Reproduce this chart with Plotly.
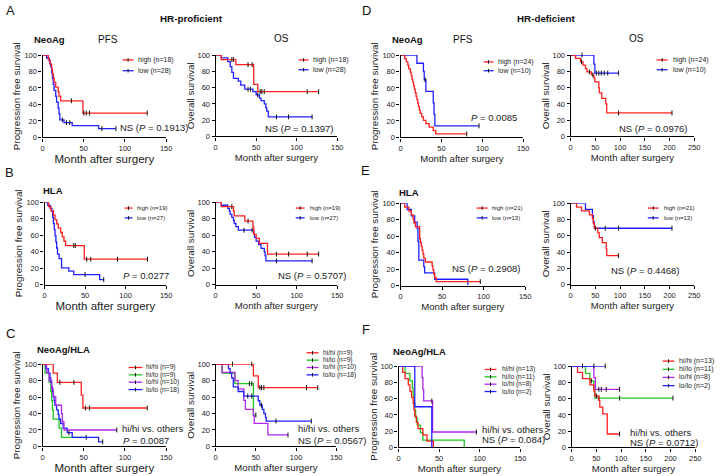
import plotly.graph_objects as go

FONT = "Arial, 'Liberation Sans', Helvetica, sans-serif"
W, H = 722, 476
RED, BLUE, GREEN, PURPLE, TICK = "#ff1f1f", "#2020ff", "#22c422", "#b028ea", "#111111"

# ------------------------------------------------------------------ data
# Each curve: event times (t), survival % after each time (s), censor times (c), last follow-up (end)
# A: HR-proficient, NeoAg, PFS
A_pfs_high_t = [0, 7, 9, 11, 12, 13, 14, 16, 19, 20, 22, 49]
A_pfs_high_s = [100, 94.4, 88.9, 83.3, 77.8, 72.2, 66.7, 61.1, 55.6, 50.0, 44.4, 29.6]
A_pfs_high_c = [35, 50, 53, 57, 127]
A_pfs_high_end = 127
A_pfs_low_t = [0, 5, 8, 9, 10, 11, 12, 13, 14, 16, 17, 19, 20, 21, 26, 36, 68]
A_pfs_low_s = [100, 96.4, 92.9, 89.3, 85.7, 78.6, 71.4, 64.3, 57.1, 50.0, 42.9, 35.7, 28.6, 21.4, 17.9, 14.3, 10.7]
A_pfs_low_c = [24, 29, 33, 72, 89]
A_pfs_low_end = 89
# A: OS
A_os_high_t = [0, 7, 25, 47, 52]
A_os_high_s = [100, 94.4, 88.2, 64.0, 55.0]
A_os_high_c = [20, 22, 40, 45, 55, 57, 60, 113, 127]
A_os_high_end = 127
A_os_low_t = [0, 7, 15, 18, 20, 22, 28, 31, 36, 46, 50, 54, 56, 60, 62, 63, 65]
A_os_low_s = [100, 96.4, 92.0, 85.7, 78.6, 71.4, 67.9, 63.0, 58.0, 55.0, 51.0, 47.0, 44.0, 40.0, 35.0, 31.0, 24.0]
A_os_low_c = [40, 43, 52, 75, 90, 119]
A_os_low_end = 119
# D: HR-deficient, NeoAg, PFS
D_pfs_high_t = [0, 5, 7, 9, 10, 12, 13, 14, 15, 16, 17, 18, 19, 20, 21, 22, 23, 24, 26, 28, 31, 35, 40, 43]
D_pfs_high_s = [100, 95.8, 91.7, 87.5, 83.3, 79.2, 75.0, 70.8, 66.7, 62.5, 58.3, 54.2, 50.0, 45.8, 41.7,
                37.5, 33.3, 29.2, 25.0, 20.8, 16.7, 12.5, 8.3, 4.2]
D_pfs_high_c = [81]
D_pfs_high_end = 81
D_pfs_low_t = [0, 20, 28, 29, 31, 40, 41, 42]
D_pfs_low_s = [100, 90, 80, 70, 56, 42, 28, 14]
D_pfs_low_c = [30, 96]
D_pfs_low_end = 96
# D: OS
D_os_high_t = [0, 10, 20, 25, 30, 33, 42, 47, 49, 57, 58, 63, 71, 73]
D_os_high_s = [100, 95.8, 91.7, 87.5, 83.3, 79.2, 75.6, 72.0, 66.9, 60.0, 53.5, 46.8, 40.1, 28.9]
D_os_high_c = [22, 38, 45, 97, 205]
D_os_high_end = 205
D_os_low_t = [0, 47, 49]
D_os_low_s = [100, 88.9, 77.8]
D_os_low_c = [23, 52, 57, 62, 68, 75, 97]
D_os_low_end = 97
# B: HR-proficient, HLA, PFS
B_pfs_high_t = [0, 5, 8, 11, 13, 15, 17, 20, 22, 24, 26, 49]
B_pfs_high_s = [100, 94.7, 89.5, 84.2, 78.9, 73.7, 68.4, 63.2, 57.9, 52.6, 47.4, 30.8]
B_pfs_high_c = [36, 38, 52, 57, 90, 127]
B_pfs_high_end = 127
B_pfs_low_t = [0, 4, 7, 9, 10, 11, 12, 13, 14, 15, 16, 18, 21, 30, 36, 68]
B_pfs_low_s = [100, 96.3, 92.6, 88.9, 81.5, 74.1, 66.7, 59.3, 51.9, 44.4, 37.0, 31.5, 20.4, 16.3, 12.2, 6.1]
B_pfs_low_c = [50, 73]
B_pfs_low_end = 73
# B: OS
B_os_high_t = [0, 7, 22, 23, 36, 46, 47, 50, 54, 64]
B_os_high_s = [100, 94.7, 89.5, 83.5, 77.0, 70.0, 61.0, 56.0, 50.0, 37.0]
B_os_high_c = [20, 40, 75, 90, 113, 127]
B_os_high_end = 127
B_os_low_t = [0, 7, 15, 17, 18, 20, 22, 23, 25, 28, 47, 48, 50, 53, 56, 60, 61, 62]
B_os_low_s = [100, 96.3, 92.6, 88.9, 85.2, 81.5, 77.8, 74.1, 70.4, 66.0, 61.6, 57.2, 52.8, 48.4, 44.0,
              39.6, 35.2, 28.8]
B_os_low_c = [35, 45, 75, 119]
B_os_low_end = 119
# E: HR-deficient, HLA, PFS
E_pfs_high_t = [0, 5, 10, 13, 15, 16, 18, 23, 24, 25, 26, 27, 28, 30, 38, 39, 40, 41, 43]
E_pfs_high_s = [100, 95.2, 90.5, 85.7, 81.0, 76.2, 71.4, 57.1, 52.4, 47.6, 42.9, 38.1, 33.3, 28.6, 23.8,
                19.0, 14.3, 9.5, 4.8]
E_pfs_high_c = [96]
E_pfs_high_end = 96
E_pfs_low_t = [0, 8, 13, 17, 20, 21, 22, 28, 29, 41, 81]
E_pfs_low_s = [100, 92.3, 84.6, 76.9, 69.2, 53.8, 30.8, 23.1, 15.4, 7.7, 0]
E_pfs_low_c = []
E_pfs_low_end = 81
# E: OS
E_os_high_t = [0, 12, 22, 38, 44, 46, 48, 55, 58, 64, 72, 73]
E_os_high_s = [100, 95.2, 90.5, 85.7, 81.0, 75.2, 69.3, 63.5, 57.7, 51.6, 44.0, 35.5]
E_os_high_c = [50, 97]
E_os_high_end = 97
E_os_low_t = [0, 30, 44, 46, 48]
E_os_low_s = [100, 92.3, 84.6, 76.9, 69.2]
E_os_low_c = [70, 97, 205]
E_os_low_end = 205
# C: HR-proficient, NeoAg/HLA, PFS
C_pfs_hihi_t = [0, 13, 18, 47, 49]
C_pfs_hihi_s = [100, 88.9, 77.8, 62.2, 46.7]
C_pfs_hihi_c = [21, 38, 52, 57, 127]
C_pfs_hihi_end = 127
C_pfs_hilo_t = [0, 3, 8, 10, 11, 12, 13, 20, 23]
C_pfs_hilo_s = [100, 88.9, 77.8, 66.7, 55.6, 44.4, 33.3, 22.2, 11.1]
C_pfs_hilo_c = [53]
C_pfs_hilo_end = 53
C_pfs_lohi_t = [0, 5, 8, 11, 13, 16, 23, 24, 26]
C_pfs_lohi_s = [100, 90, 80, 70, 60, 50, 40, 30, 20]
C_pfs_lohi_c = [90]
C_pfs_lohi_end = 90
C_pfs_lolo_t = [0, 4, 7, 9, 10, 11, 12, 13, 14, 15, 17, 19, 20, 22, 25, 30, 36, 68]
C_pfs_lolo_s = [100, 94.4, 88.9, 83.3, 77.8, 72.2, 66.7, 61.1, 55.6, 50.0, 44.4, 38.9, 33.3, 27.8, 22.2,
                16.7, 11.1, 5.6]
C_pfs_lolo_c = [32, 73]
C_pfs_lolo_end = 73
# C: OS
C_os_hihi_t = [0, 47, 53]
C_os_hihi_s = [100, 85.7, 71.4]
C_os_hihi_c = [21, 45, 55, 57, 60, 113, 127]
C_os_hihi_end = 127
C_os_hilo_t = [0, 8, 24, 47]
C_os_hilo_s = [100, 88.9, 76.2, 38.1]
C_os_hilo_c = [42, 45, 50]
C_os_hilo_end = 50
C_os_lohi_t = [0, 8, 24, 28, 35, 37, 47, 48, 65]
C_os_lohi_s = [100, 90, 80, 70, 56, 45, 37, 28, 14]
C_os_lohi_c = [90]
C_os_lohi_end = 90
C_os_lolo_t = [0, 16, 18, 20, 22, 28, 35, 53, 55, 58, 60, 62, 63]
C_os_lolo_s = [100, 94.4, 88.9, 83.3, 72.2, 66.7, 61.1, 55.5, 50.0, 45.0, 40.0, 35.0, 30.8]
C_os_lolo_c = [40, 45, 57, 75, 119]
C_os_lolo_end = 119
# F: HR-deficient, NeoAg/HLA, PFS
F_pfs_hihi_t = [0, 5, 8, 12, 14, 16, 18, 19, 20, 22, 24, 30, 35, 43]
F_pfs_hihi_s = [100, 92.3, 84.6, 76.9, 69.2, 61.5, 53.8, 46.2, 38.5, 30.8, 23.1, 15.4, 7.7, 0]
F_pfs_hihi_c = []
F_pfs_hihi_end = 43
F_pfs_hilo_t = [0, 8, 14, 17, 18, 19, 20, 21, 23, 27, 30, 81]
F_pfs_hilo_s = [100, 90.9, 81.8, 72.7, 63.6, 54.5, 45.5, 36.4, 27.3, 18.2, 9.1, 0]
F_pfs_hilo_c = []
F_pfs_hilo_end = 81
F_pfs_lohi_t = [0, 29, 30, 31, 42]
F_pfs_lohi_s = [100, 85.7, 71.4, 57.1, 19.0]
F_pfs_lohi_c = [41, 96]
F_pfs_lohi_end = 96
F_pfs_lolo_t = [0, 20, 41]
F_pfs_lolo_s = [100, 50, 0]
F_pfs_lolo_c = []
F_pfs_lolo_end = 41
# F: OS
F_os_hihi_t = [0, 12, 22, 37, 45, 47, 55, 57, 63, 72]
F_os_hihi_s = [100, 92.3, 84.6, 76.9, 69.2, 63.2, 57.7, 49.5, 41.3, 16.5]
F_os_hihi_c = [50, 97]
F_os_hihi_end = 97
F_os_hilo_t = [0, 28, 37, 45, 47]
F_os_hilo_s = [100, 90.9, 81.8, 72.7, 60.6]
F_os_hilo_c = [40, 55, 97, 205]
F_os_hilo_end = 205
F_os_lohi_t = [0, 45, 48]
F_os_lohi_s = [100, 85.7, 71.4]
F_os_lohi_c = [55, 60, 70, 97]
F_os_lohi_end = 97
F_os_lolo_t = [0]
F_os_lolo_s = [100]
F_os_lolo_c = [22, 45, 68]
F_os_lolo_end = 68

# legend labels
A_labels = ["high (n=18)", "low (n=28)"]
D_labels = ["high (n=24)", "low (n=10)"]
B_labels = ["high (n=19)", "low (n=27)"]
E_labels = ["high (n=21)", "low (n=13)"]
C_labels = ["hi/hi (n=9)", "hi/lo (n=9)", "lo/hi (n=10)", "lo/lo (n=18)"]
F_labels = ["hi/hi (n=13)", "hi/lo (n=11)", "lo/hi (n=8)", "lo/lo (n=2)"]

# ------------------------------------------------------------------ panel layout (pixel boxes)
def cv(t, s, c, end, color):
    return dict(t=t, s=s, c=c, end=end, color=color)

two = [RED, BLUE]
four = [RED, GREEN, PURPLE, BLUE]

panels = [
    dict(box=(41, 166, 52, 136), xmax=150, ytitle="Progression free survival", xts=11.5,
         curves=[cv(A_pfs_low_t, A_pfs_low_s, A_pfs_low_c, A_pfs_low_end, BLUE),
                 cv(A_pfs_high_t, A_pfs_high_s, A_pfs_high_c, A_pfs_high_end, RED)],
         leg=dict(x0=122, x1=133, tx=136, ys=[57, 68], size=7, labels=A_labels, colors=two),
         note=[("NS (<i>P</i> = 0.1913)", 117, 126)]),
    dict(box=(216, 339, 52, 135), xmax=150, ytitle="Overall survival", xts=9.6,
         curves=[cv(A_os_low_t, A_os_low_s, A_os_low_c, A_os_low_end, BLUE),
                 cv(A_os_high_t, A_os_high_s, A_os_high_c, A_os_high_end, RED)],
         leg=dict(x0=300, x1=310, tx=312, ys=[57, 67], size=7, labels=A_labels, colors=two),
         note=[("NS (<i>P</i> = 0.1397)", 264, 127)]),
    dict(box=(403, 527, 52, 136), xmax=150, ytitle="Progression free survival", xts=9.6,
         curves=[cv(D_pfs_low_t, D_pfs_low_s, D_pfs_low_c, D_pfs_low_end, BLUE),
                 cv(D_pfs_high_t, D_pfs_high_s, D_pfs_high_c, D_pfs_high_end, RED)],
         leg=dict(x0=487, x1=497, tx=500, ys=[59, 68], size=7, labels=D_labels, colors=two),
         note=[("<i>P</i> = 0.0085", 472, 116)]),
    dict(box=(575, 700, 52, 135), xmax=250, ytitle="Overall survival", xts=9.6,
         curves=[cv(D_os_low_t, D_os_low_s, D_os_low_c, D_os_low_end, BLUE),
                 cv(D_os_high_t, D_os_high_s, D_os_high_c, D_os_high_end, RED)],
         leg=dict(x0=662, x1=673, tx=676, ys=[57, 67], size=7, labels=D_labels, colors=two),
         note=[("NS (<i>P</i> = 0.0976)", 622, 127)]),
    dict(box=(43, 166, 202, 286), xmax=150, ytitle="Progression free survival", xts=11.5,
         curves=[cv(B_pfs_low_t, B_pfs_low_s, B_pfs_low_c, B_pfs_low_end, BLUE),
                 cv(B_pfs_high_t, B_pfs_high_s, B_pfs_high_c, B_pfs_high_end, RED)],
         leg=dict(x0=124, x1=132, tx=134, ys=[208, 218], size=6, labels=B_labels, colors=two),
         note=[("<i>P</i> = 0.0277", 120, 277)]),
    dict(box=(216, 339, 202, 286), xmax=150, ytitle="Overall survival", xts=9.6,
         curves=[cv(B_os_low_t, B_os_low_s, B_os_low_c, B_os_low_end, BLUE),
                 cv(B_os_high_t, B_os_high_s, B_os_high_c, B_os_high_end, RED)],
         leg=dict(x0=297, x1=306, tx=309, ys=[208, 218], size=6, labels=B_labels, colors=two),
         note=[("NS (<i>P</i> = 0.5707)", 277, 277)]),
    dict(box=(403, 529, 203, 287), xmax=150, ytitle="Progression free survival", xts=9.6,
         curves=[cv(E_pfs_low_t, E_pfs_low_s, E_pfs_low_c, E_pfs_low_end, BLUE),
                 cv(E_pfs_high_t, E_pfs_high_s, E_pfs_high_c, E_pfs_high_end, RED)],
         leg=dict(x0=480, x1=491, tx=493, ys=[208, 218], size=6, labels=E_labels, colors=two),
         note=[("NS (<i>P</i> = 0.2908)", 453, 270)]),
    dict(box=(575, 700, 203, 286), xmax=250, ytitle="Overall survival", xts=9.6,
         curves=[cv(E_os_low_t, E_os_low_s, E_os_low_c, E_os_low_end, BLUE),
                 cv(E_os_high_t, E_os_high_s, E_os_high_c, E_os_high_end, RED)],
         leg=dict(x0=653, x1=664, tx=667, ys=[208, 218], size=6, labels=E_labels, colors=two),
         note=[("NS (<i>P</i> = 0.4468)", 614, 272)]),
    dict(box=(41, 166, 367, 451), xmax=150, ytitle="Progression free survival", xts=11.5,
         curves=[cv(C_pfs_hilo_t, C_pfs_hilo_s, C_pfs_hilo_c, C_pfs_hilo_end, GREEN),
                 cv(C_pfs_lolo_t, C_pfs_lolo_s, C_pfs_lolo_c, C_pfs_lolo_end, BLUE),
                 cv(C_pfs_lohi_t, C_pfs_lohi_s, C_pfs_lohi_c, C_pfs_lohi_end, PURPLE),
                 cv(C_pfs_hihi_t, C_pfs_hihi_s, C_pfs_hihi_c, C_pfs_hihi_end, RED)],
         leg=dict(x0=128, x1=142, tx=144, ys=[370.5, 378, 385.5, 393], size=6.6, labels=C_labels, colors=four),
         note=[("hi/hi vs. others", 119, 433), ("<i>P</i> = 0.0087", 120, 445)]),
    dict(box=(216, 338, 367, 451), xmax=150, ytitle="Overall survival", xts=9.6,
         curves=[cv(C_os_hilo_t, C_os_hilo_s, C_os_hilo_c, C_os_hilo_end, GREEN),
                 cv(C_os_lohi_t, C_os_lohi_s, C_os_lohi_c, C_os_lohi_end, PURPLE),
                 cv(C_os_lolo_t, C_os_lolo_s, C_os_lolo_c, C_os_lolo_end, BLUE),
                 cv(C_os_hihi_t, C_os_hihi_s, C_os_hihi_c, C_os_hihi_end, RED)],
         leg=dict(x0=308, x1=320, tx=323, ys=[355.5, 363, 370.5, 378], size=6.6, labels=C_labels, colors=four),
         note=[("hi/hi vs. others", 297, 433), ("NS (<i>P</i> = 0.0567)", 297, 445)]),
    dict(box=(401, 524, 369, 452), xmax=150, ytitle="Progression free survival", xts=9.6,
         curves=[cv(F_pfs_hilo_t, F_pfs_hilo_s, F_pfs_hilo_c, F_pfs_hilo_end, GREEN),
                 cv(F_pfs_hihi_t, F_pfs_hihi_s, F_pfs_hihi_c, F_pfs_hihi_end, RED),
                 cv(F_pfs_lohi_t, F_pfs_lohi_s, F_pfs_lohi_c, F_pfs_lohi_end, PURPLE),
                 cv(F_pfs_lolo_t, F_pfs_lolo_s, F_pfs_lolo_c, F_pfs_lolo_end, BLUE)],
         leg=dict(x0=488, x1=500, tx=504, ys=[372.5, 380, 387.5, 395], size=6.6, labels=F_labels, colors=four),
         note=[("hi/hi vs. others", 483, 434), ("NS (<i>P</i> = 0.084)", 483, 444)]),
    dict(box=(576, 701, 369, 452), xmax=250, ytitle="Overall survival", xts=9.6,
         curves=[cv(F_os_hilo_t, F_os_hilo_s, F_os_hilo_c, F_os_hilo_end, GREEN),
                 cv(F_os_hihi_t, F_os_hihi_s, F_os_hihi_c, F_os_hihi_end, RED),
                 cv(F_os_lohi_t, F_os_lohi_s, F_os_lohi_c, F_os_lohi_end, PURPLE),
                 cv(F_os_lolo_t, F_os_lolo_s, F_os_lolo_c, F_os_lolo_end, BLUE)],
         leg=dict(x0=668, x1=680, tx=683, ys=[364, 372.3, 380.6, 389], size=7, labels=F_labels, colors=four),
         note=[("hi/hi vs. others", 633, 437), ("NS (<i>P</i> = 0.0712)", 633, 447)]),
]

# headers: (text, x px, y px, size, bold, anchor)
headers = [
    ("A", 2, 7, 13, False, "left"), ("D", 362, 7, 13, False, "left"),
    ("B", 1, 172, 13, False, "left"), ("E", 361, 170, 13, False, "left"),
    ("C", 2, 336, 13, False, "left"), ("F", 362, 332, 13, False, "left"),
    ("HR-proficient", 192, 15, 9.8, True, "center"), ("HR-deficient", 550, 15, 9.8, True, "center"),
    ("NeoAg", 48, 36, 9.5, True, "center"), ("PFS", 107, 36, 10, False, "center"),
    ("OS", 283, 35, 10, False, "center"),
    ("NeoAg", 410, 36, 9.5, True, "center"), ("PFS", 466, 36, 10, False, "center"),
    ("OS", 642, 35, 10, False, "center"),
    ("HLA", 52, 190, 9.5, True, "center"), ("HLA", 412, 192, 9.5, True, "center"),
    ("NeoAg/HLA", 62, 352, 9.5, True, "center"), ("NeoAg/HLA", 422, 354, 9.5, True, "center"),
]


def PX(x):
    return x / W


def PY(y):
    return 1 - y / H


def surv_at(t, s, c):
    v = s[0]
    for ti, si in zip(t, s):
        if ti <= c:
            v = si
    return v


fig = go.Figure()
annotations, shapes = [], []
layout = {}

for i, p in enumerate(panels, start=1):
    x0, x1, yt, yb = p["box"]
    xn, yn = f"x{i}", f"y{i}"
    axis_common = dict(showline=True, linecolor="black", linewidth=1.2, ticks="outside", ticklen=3,
                       tickwidth=1.1, tickcolor="black", showgrid=False, zeroline=False,
                       tickfont=dict(size=7.5, family=FONT, color="#222"))
    layout["xaxis" if i == 1 else f"xaxis{i}"] = dict(
        domain=[PX(x0), PX(x1)], range=[0, p["xmax"]], anchor=yn,
        tickvals=list(range(0, p["xmax"] + 1, 50)),
        title=dict(text="Month after surgery", font=dict(size=p["xts"], family=FONT, color="#222"), standoff=2),
        **axis_common)
    layout["yaxis" if i == 1 else f"yaxis{i}"] = dict(
        domain=[PY(yb), PY(yt)], range=[0, 100], anchor=xn,
        tickvals=[0, 20, 40, 60, 80, 100],
        title=dict(text=p["ytitle"], font=dict(size=9.8, family=FONT, color="#222"), standoff=1),
        **axis_common)
    for c in p["curves"]:
        xs = list(c["t"]) + [c["end"]]
        ys = list(c["s"]) + [c["s"][-1]]
        fig.add_trace(go.Scatter(x=xs, y=ys, mode="lines", xaxis=xn, yaxis=yn, cliponaxis=False,
                                 line=dict(color=c["color"], width=1.3, shape="hv"),
                                 showlegend=False, hoverinfo="skip"))
        if c["c"]:
            fig.add_trace(go.Scatter(x=c["c"], y=[surv_at(c["t"], c["s"], v) for v in c["c"]],
                                     mode="markers", xaxis=xn, yaxis=yn, cliponaxis=False,
                                     marker=dict(symbol="line-ns", size=3.5, line=dict(width=1, color=TICK)),
                                     showlegend=False, hoverinfo="skip"))
    lg = p["leg"]
    for lab, col, yy in zip(lg["labels"], lg["colors"], lg["ys"]):
        shapes.append(dict(type="line", xref="paper", yref="paper", x0=PX(lg["x0"]), x1=PX(lg["x1"]),
                           y0=PY(yy), y1=PY(yy), line=dict(color=col, width=1.3)))
        xm = (lg["x0"] + lg["x1"]) / 2
        shapes.append(dict(type="line", xref="paper", yref="paper", x0=PX(xm), x1=PX(xm),
                           y0=PY(yy - 1.8), y1=PY(yy + 1.8), line=dict(color=TICK, width=1)))
        annotations.append(dict(text=lab, x=PX(lg["tx"]), y=PY(yy), xref="paper", yref="paper",
                                xanchor="left", yanchor="middle", showarrow=False,
                                font=dict(size=lg["size"], family=FONT, color="#222")))
    for txt, nx, ny in p["note"]:
        annotations.append(dict(text=txt, x=PX(nx), y=PY(ny), xref="paper", yref="paper",
                                xanchor="left", yanchor="middle", showarrow=False,
                                font=dict(size=9.5, family=FONT, color="#222")))

for txt, hx, hy, sz, bold, anc in headers:
    annotations.append(dict(text=f"<b>{txt}</b>" if bold else txt, x=PX(hx), y=PY(hy),
                            xref="paper", yref="paper", xanchor=anc, yanchor="middle", showarrow=False,
                            font=dict(size=sz, family=FONT, color="#111")))

fig.update_layout(width=W, height=H, margin=dict(l=0, r=0, t=0, b=0), paper_bgcolor="white",
                  plot_bgcolor="rgba(0,0,0,0)", showlegend=False, font=dict(family=FONT, color="#222"),
                  annotations=annotations, shapes=shapes, **layout)

fig.write_html("out.html", config={"displayModeBar": False},
               post_script="document.body.style.margin='0';")
